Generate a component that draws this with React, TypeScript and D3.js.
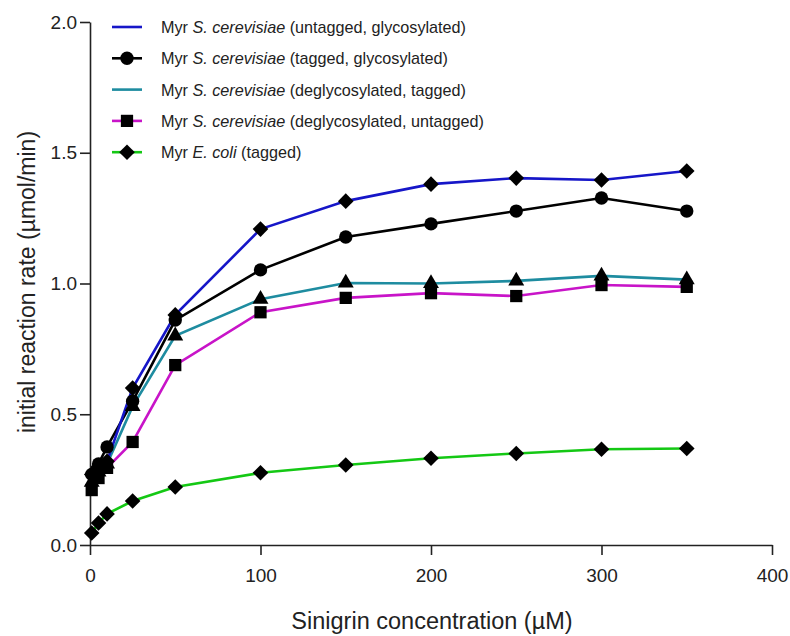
import { useEffect, useRef } from "react";
import * as d3 from "d3";

// substrate concentrations (µM)
const conc = [1, 5, 10, 25, 50, 100, 150, 200, 250, 300, 350];

// initial reaction rate (µmol/min)
const untaggedGlyc = [0.27, 0.3, 0.32, 0.6, 0.88, 1.208, 1.315, 1.38, 1.403, 1.396, 1.43];
const taggedGlyc = [0.27, 0.31, 0.375, 0.55, 0.86, 1.052, 1.178, 1.228, 1.277, 1.327, 1.277];
const deglycTagged = [0.24, 0.28, 0.31, 0.53, 0.8, 0.94, 1.002, 1.0, 1.01, 1.029, 1.015];
const deglycUntagged = [0.21, 0.256, 0.295, 0.394, 0.688, 0.89, 0.945, 0.963, 0.952, 0.994, 0.987];
const ecoliTagged = [0.046, 0.084, 0.119, 0.168, 0.222, 0.276, 0.306, 0.332, 0.35, 0.366, 0.369];

const xTicks = [0, 100, 200, 300, 400];
const yTicks = [0, 0.5, 1, 1.5, 2];

const series = [
  { species: "S. cerevisiae", note: "(untagged, glycosylated)", values: untaggedGlyc, color: "#1616c8", marker: "diamond", legendMarker: false },
  { species: "S. cerevisiae", note: "(tagged, glycosylated)", values: taggedGlyc, color: "#000000", marker: "circle", legendMarker: true },
  { species: "S. cerevisiae", note: "(deglycosylated, tagged)", values: deglycTagged, color: "#1e8ca0", marker: "triangle", legendMarker: false },
  { species: "S. cerevisiae", note: "(deglycosylated, untagged)", values: deglycUntagged, color: "#c814c8", marker: "square", legendMarker: true },
  { species: "E. coli", note: "(tagged)", values: ecoliTagged, color: "#14c814", marker: "diamond", legendMarker: true },
];

const symbolFor = (m: string) => {
  switch (m) {
    case "circle":
      return d3.symbol().type(d3.symbolCircle).size(140);
    case "square":
      return d3.symbol().type(d3.symbolSquare).size(150);
    case "triangle":
      return d3.symbol().type(d3.symbolTriangle).size(110);
    default:
      return d3.symbol().type(d3.symbolDiamond2).size(155);
  }
};

export default function App() {
  const ref = useRef<SVGSVGElement>(null);

  useEffect(() => {
    const width = 790;
    const height = 636;
    const svg = d3.select(ref.current);
    svg.selectAll("*").remove();

    const x = d3.scaleLinear().domain([0, 400]).range([90, 772]);
    const y = d3.scaleLinear().domain([0, 2]).range([545, 22]);

    svg.attr("width", width).attr("height", height);
    const font = "'Liberation Sans', Arial, sans-serif";

    // axes
    const xAxis = svg
      .append("g")
      .attr("transform", `translate(0,${y(0)})`)
      .call(d3.axisBottom(x).tickValues(xTicks).tickFormat(d3.format("d")).tickSize(10).tickSizeOuter(0).tickPadding(14));
    const yAxis = svg
      .append("g")
      .attr("transform", `translate(${x(0)},0)`)
      .call(d3.axisLeft(y).tickValues(yTicks).tickFormat(d3.format(".1f")).tickSize(10).tickSizeOuter(0).tickPadding(3));
    [xAxis, yAxis].forEach((a) => {
      a.selectAll("path, line").attr("stroke", "#222").attr("stroke-width", 1.6);
      a.selectAll("text").attr("fill", "#222").style("font-family", font).style("font-size", "19px");
    });

    // axis titles
    svg
      .append("text")
      .attr("x", 432)
      .attr("y", 629)
      .attr("text-anchor", "middle")
      .style("font-family", font)
      .style("font-size", "23.5px")
      .attr("fill", "#222")
      .text("Sinigrin concentration (µM)");
    svg
      .append("text")
      .attr("transform", `translate(35,282) rotate(-90)`)
      .attr("text-anchor", "middle")
      .style("font-family", font)
      .style("font-size", "23px")
      .attr("fill", "#222")
      .text("initial reaction rate (µmol/min)");

    // lines and markers
    const line = d3
      .line<number>()
      .x((_, i) => x(conc[i]))
      .y((d) => y(d));

    const order = [3, 2, 1, 0, 4];
    order.forEach((si) => {
      const s = series[si];
      svg
        .append("path")
        .attr("d", line(s.values))
        .attr("fill", "none")
        .attr("stroke", s.color)
        .attr("stroke-width", 2.6);
    });
    order.forEach((si) => {
      const s = series[si];
      svg
        .selectAll(`.m${si}`)
        .data(s.values)
        .enter()
        .append("path")
        .attr("class", `m${si}`)
        .attr("transform", (d, i) => `translate(${x(conc[i])},${y(d)})`)
        .attr("d", symbolFor(s.marker)() as string)
        .attr("fill", "#000");
    });

    // legend
    const legend = svg
      .selectAll(".legend")
      .data(series)
      .enter()
      .append("g")
      .attr("class", "legend")
      .attr("transform", (_, i) => `translate(112,${27 + i * 31.3})`);
    legend
      .append("line")
      .attr("x1", 0)
      .attr("x2", 30)
      .attr("stroke", (d) => d.color)
      .attr("stroke-width", 2.6);
    legend
      .filter((d) => d.legendMarker)
      .append("path")
      .attr("transform", "translate(15,0)")
      .attr("d", (d) => symbolFor(d.marker)() as string)
      .attr("fill", "#000");
    const label = legend
      .append("text")
      .attr("x", 49)
      .attr("y", 6)
      .style("font-family", font)
      .style("font-size", "16.2px")
      .attr("fill", "#222");
    label.append("tspan").text("Myr ");
    label.append("tspan").style("font-style", "italic").text((d) => d.species);
    label.append("tspan").text((d) => " " + d.note);
  }, []);

  return <svg ref={ref} style={{ position: "absolute", left: 0, top: 0, background: "#fff" }} />;
}
